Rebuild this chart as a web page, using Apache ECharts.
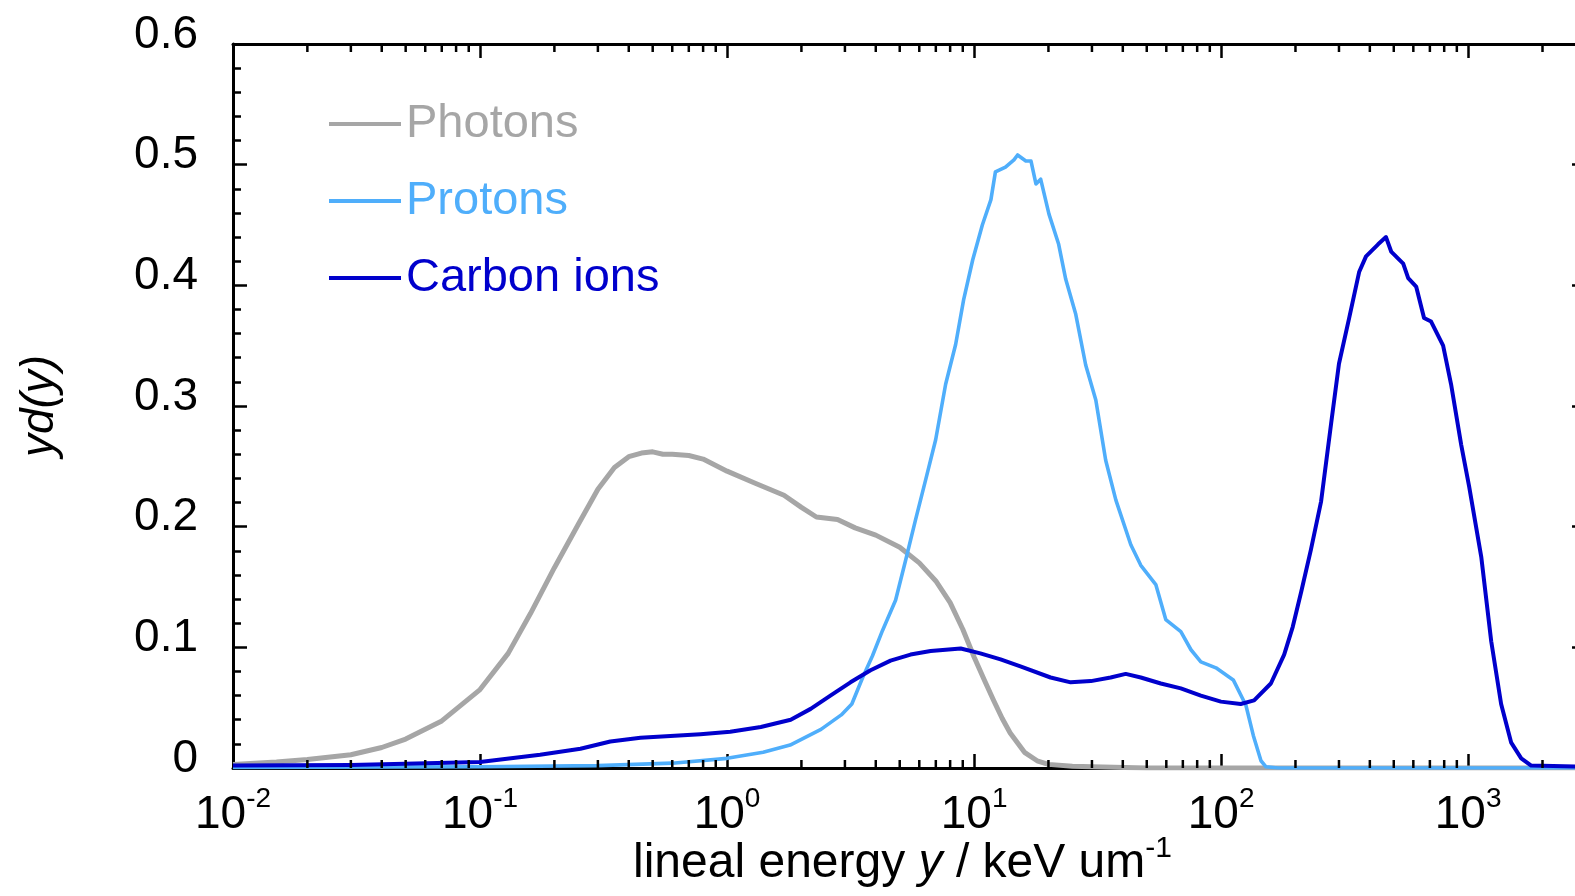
<!DOCTYPE html>
<html>
<head>
<meta charset="utf-8">
<script src="https://cdn.jsdelivr.net/npm/echarts@6/dist/echarts.min.js"></script>
<style>
html, body { margin: 0; padding: 0; background: #fff; overflow: hidden; }
#chart { width: 1600px; height: 896px; }
</style>
</head>
<body>
<div id="chart"></div>
<script>
// ---- data ----
const seriesNames = ['Photons', 'Protons', 'Carbon ions'];

const photonX = [0.01, 0.015, 0.02, 0.03, 0.04, 0.05, 0.07, 0.1, 0.13, 0.16, 0.2, 0.25, 0.3, 0.35, 0.4, 0.45, 0.5, 0.55, 0.6, 0.7, 0.8, 1.0, 1.3, 1.7, 2.0, 2.3, 2.8, 3.3, 4, 5, 6, 7, 8, 9, 10, 11, 12, 13, 14, 16, 18, 20, 25, 30, 50, 100, 1000, 3000];
const photonY = [0.003, 0.005, 0.007, 0.011, 0.017, 0.024, 0.039, 0.065, 0.095, 0.128, 0.166, 0.202, 0.231, 0.249, 0.258, 0.261, 0.262, 0.260, 0.260, 0.259, 0.256, 0.246, 0.236, 0.226, 0.216, 0.208, 0.206, 0.199, 0.193, 0.183, 0.170, 0.155, 0.137, 0.115, 0.092, 0.073, 0.056, 0.041, 0.029, 0.013, 0.006, 0.003, 0.0015, 0.001, 0, 0, 0, 0];

const protonX = [0.01, 0.1, 0.3, 0.6, 1.0, 1.4, 1.8, 2.4, 2.9, 3.2, 3.54, 3.88, 4.26, 4.81, 5.28, 5.8, 6.37, 6.99, 7.67, 8.42, 9.07, 9.87, 10.8, 11.7, 12.2, 13.4, 14.5, 15.0, 16.2, 17.0, 17.8, 18.6, 20.1, 22.0, 23.5, 25.8, 28.3, 31.1, 34.1, 37.5, 43.1, 47.3, 54.4, 59.7, 68.7, 75.5, 82.8, 95.3, 112, 126, 135, 145, 152, 170, 3000];
const protonY = [0.0005, 0.001, 0.002, 0.004, 0.008, 0.013, 0.019, 0.032, 0.044, 0.053, 0.075, 0.093, 0.114, 0.139, 0.172, 0.206, 0.239, 0.272, 0.318, 0.351, 0.388, 0.421, 0.450, 0.471, 0.494, 0.498, 0.504, 0.508, 0.503, 0.503, 0.484, 0.488, 0.459, 0.434, 0.405, 0.376, 0.334, 0.305, 0.255, 0.222, 0.185, 0.168, 0.152, 0.123, 0.113, 0.098, 0.088, 0.083, 0.073, 0.052, 0.027, 0.006, 0.001, 0, 0];

const carbonX = [0.01, 0.03, 0.1, 0.175, 0.255, 0.337, 0.446, 0.78, 1.03, 1.37, 1.81, 2.18, 2.62, 3.16, 3.81, 4.59, 5.53, 6.67, 8.83, 10.6, 12.8, 15.5, 20.4, 24.6, 29.7, 35.7, 41.1, 47.3, 57.0, 68.7, 82.8, 99.8, 120, 136, 159, 180, 195, 211, 231, 254, 279, 300, 330, 362, 386, 432, 465, 488, 546, 572, 616, 663, 708, 792, 853, 937, 1010, 1130, 1240, 1360, 1494, 1640, 1800, 3000];
const carbonY = [0.002, 0.0025, 0.005, 0.011, 0.016, 0.022, 0.025, 0.028, 0.030, 0.034, 0.040, 0.049, 0.060, 0.071, 0.081, 0.089, 0.094, 0.097, 0.099, 0.095, 0.090, 0.084, 0.075, 0.071, 0.072, 0.075, 0.078, 0.075, 0.070, 0.066, 0.060, 0.055, 0.053, 0.056, 0.070, 0.094, 0.117, 0.146, 0.181, 0.221, 0.286, 0.335, 0.373, 0.411, 0.424, 0.434, 0.440, 0.428, 0.418, 0.406, 0.399, 0.373, 0.370, 0.350, 0.318, 0.268, 0.233, 0.175, 0.105, 0.053, 0.021, 0.008, 0.002, 0.001];

const xMin = 0.01, xMax = 3000;
const yMin = 0, yMax = 0.6, yInterval = 0.1;
const xMinorTicks = [0.02, 0.03, 0.04, 0.05, 0.06, 0.07, 0.08, 0.09,
  0.2, 0.3, 0.4, 0.5, 0.6, 0.7, 0.8, 0.9,
  2, 3, 4, 5, 6, 7, 8, 9,
  20, 30, 40, 50, 60, 70, 80, 90,
  200, 300, 400, 500, 600, 700, 800, 900,
  2000];

const colors = ['#a6a6a6', '#4faefb', '#0000cc'];
const widths = [5, 3.6, 4];
const FONT = '"Liberation Sans", Arial, Helvetica, sans-serif';

function zip(xs, ys) { return xs.map((x, i) => [x, ys[i]]); }
const seriesData = [zip(photonX, photonY), zip(protonX, protonY), zip(carbonX, carbonY)];

function powLabel(v) {
  const e = Math.log10(v);
  const r = Math.round(e);
  if (Math.abs(e - r) > 1e-6) return '';
  return '{b|10}{s|' + r + '}';
}

const chart = echarts.init(document.getElementById('chart'), null, { renderer: 'canvas' });

const axisLineStyle = { color: '#000', width: 3 };
const tickStyle = { color: '#000', width: 2.5 };

const option = {
  animation: false,
  backgroundColor: '#fff',
  textStyle: { fontFamily: FONT },
  grid: { left: 233, right: 14, top: 44, bottom: 128, containLabel: false, outerBoundsMode: 'none' },
  legend: {
    orient: 'vertical',
    left: 324,
    top: 91,
    icon: 'rect',
    itemWidth: 72,
    itemHeight: 4,
    itemGap: 21,
    selectedMode: false,
    textStyle: { fontFamily: FONT, fontSize: 47, lineHeight: 56 },
    data: seriesNames.map((n, i) => ({ name: n, textStyle: { color: colors[i] } }))
  },
  xAxis: [
    {
      type: 'log', logBase: 10, min: xMin, max: xMax, position: 'bottom',
      axisLine: { show: true, onZero: false, lineStyle: axisLineStyle },
      axisTick: { show: true, inside: true, length: 14, lineStyle: tickStyle },
      splitLine: { show: false },
      axisLabel: {
        show: true, margin: 17, formatter: powLabel, color: '#000',
        rich: {
          b: { fontFamily: FONT, fontSize: 46, lineHeight: 60, color: '#000' },
          s: { fontFamily: FONT, fontSize: 28, lineHeight: 20, verticalAlign: 'top', color: '#000' }
        }
      },
      name: '{n|lineal energy }{i|y}{n| / keV um}{s|-1}',
      nameLocation: 'middle',
      nameGap: 66,
      nameMoveOverlap: false,
      nameTextStyle: {
        padding: [0, 14, 0, 0],
        rich: {
          n: { fontFamily: FONT, fontSize: 48, lineHeight: 60, color: '#000' },
          i: { fontFamily: FONT, fontSize: 48, lineHeight: 60, fontStyle: 'italic', color: '#000' },
          s: { fontFamily: FONT, fontSize: 30, lineHeight: 32, verticalAlign: 'top', color: '#000' }
        }
      }
    },
    {
      type: 'log', logBase: 10, min: xMin, max: xMax, position: 'top',
      axisLine: { show: true, onZero: false, lineStyle: axisLineStyle },
      axisTick: { show: true, inside: true, length: 14, lineStyle: tickStyle },
      splitLine: { show: false },
      axisLabel: { show: false }
    }
  ],
  yAxis: [
    {
      type: 'value', min: yMin, max: yMax, interval: yInterval, position: 'left',
      axisLine: { show: true, onZero: false, lineStyle: axisLineStyle },
      axisTick: { show: true, inside: true, length: 14, lineStyle: tickStyle },
      minorTick: { show: true, splitNumber: 5, length: 8, lineStyle: tickStyle },
      splitLine: { show: false },
      axisLabel: {
        show: true, margin: 35, color: '#000', fontFamily: FONT, fontSize: 46,
        verticalAlign: 'bottom', lineHeight: 18
      },
      name: 'yd(y)',
      nameLocation: 'middle',
      nameGap: 170,
      nameMoveOverlap: false,
      nameTextStyle: { fontFamily: FONT, fontSize: 46, lineHeight: 46, fontStyle: 'italic', color: '#000' }
    },
    {
      type: 'value', min: yMin, max: yMax, interval: yInterval, position: 'right',
      axisLine: { show: true, onZero: false, lineStyle: axisLineStyle },
      axisTick: { show: true, inside: true, length: 14, lineStyle: tickStyle },
      minorTick: { show: true, splitNumber: 5, length: 8, lineStyle: tickStyle },
      splitLine: { show: false },
      axisLabel: { show: false }
    }
  ],
  series: [
    ...seriesNames.map((n, i) => ({
      name: n,
      type: 'line',
      xAxisIndex: 0, yAxisIndex: 0,
      data: seriesData[i],
      showSymbol: false,
      symbol: 'none',
      smooth: false,
      color: colors[i],
      lineStyle: { color: colors[i], width: widths[i], join: 'round' },
      z: 2 + i
    })),
    {
      name: 'xMinorTicks',
      type: 'custom',
      xAxisIndex: 0, yAxisIndex: 0,
      silent: true,
      z: 10,
      data: xMinorTicks.map(v => [v, yMin]),
      encode: { x: 0, y: 1 },
      renderItem: function (params, api) {
        const v = api.value(0);
        const b = api.coord([v, yMin]);
        const t = api.coord([v, yMax]);
        return {
          type: 'group',
          children: [
            { type: 'line', shape: { x1: b[0], y1: b[1], x2: b[0], y2: b[1] - 8 }, style: { stroke: '#000', lineWidth: 2.5 } },
            { type: 'line', shape: { x1: t[0], y1: t[1], x2: t[0], y2: t[1] + 8 }, style: { stroke: '#000', lineWidth: 2.5 } }
          ]
        };
      }
    }
  ]
};

chart.setOption(option);
</script>
</body>
</html>
